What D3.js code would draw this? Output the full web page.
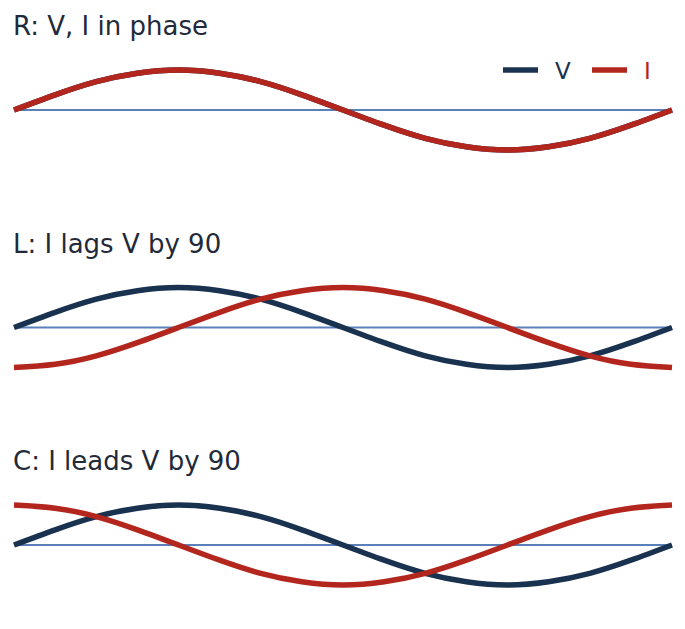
<!DOCTYPE html>
<html>
<head>
<meta charset="utf-8">
<script src="https://cdn.jsdelivr.net/npm/d3@7"></script>
<style>
  body { margin: 0; background: #fff; }
  text { font-family: "DejaVu Sans", sans-serif; }
</style>
</head>
<body>
<svg id="chart"></svg>
<script>
const svgWidth = 685,
    svgHeight = 629;

// phase angle (degrees) of each sample
const phase = [0, 22.5, 45, 67.5, 90, 112.5, 135, 157.5, 180, 202.5, 225, 247.5, 270, 292.5, 315, 337.5, 360];

// values, normalised to the peak
const voltage   = [0, 0.38, 0.71, 0.92, 1, 0.92, 0.71, 0.38, 0, -0.38, -0.71, -0.92, -1, -0.92, -0.71, -0.38, 0];
const currentR  = [0, 0.38, 0.71, 0.92, 1, 0.92, 0.71, 0.38, 0, -0.38, -0.71, -0.92, -1, -0.92, -0.71, -0.38, 0];
const currentL  = [-1, -0.92, -0.71, -0.38, 0, 0.38, 0.71, 0.92, 1, 0.92, 0.71, 0.38, 0, -0.38, -0.71, -0.92, -1];
const currentC  = [1, 0.92, 0.71, 0.38, 0, -0.38, -0.71, -0.92, -1, -0.92, -0.71, -0.38, 0, 0.38, 0.71, 0.92, 1];

const titles = ["R: V, I in phase", "L: I lags V by 90", "C: I leads V by 90"];
const currents = [currentR, currentL, currentC];
const legendLabels = ["V", "I"];

const vColor = "#19324f",
    iColor = "#b3261e",
    axisColor = "#5b80b9",
    titleColor = "#222a3a";

const chart = d3.select("#chart")
    .attr("width", svgWidth)
    .attr("height", svgHeight);

var xScale = d3.scaleLinear().domain([0, 360]).range([14, 672]);

titles.forEach(function(title, i) {
    var top = i * 217.5;
    var yScale = d3.scaleLinear().domain([-1, 1]).range([top + 150, top + 70]);

    var g = chart.append("g");

    g.append("text")
        .attr("x", 13)
        .attr("y", top + 35)
        .style("font-size", "26px")
        .style("fill", titleColor)
        .text(title);

    g.append("line")
        .attr("x1", xScale(0)).attr("x2", xScale(360))
        .attr("y1", yScale(0)).attr("y2", yScale(0))
        .style("stroke", axisColor)
        .style("stroke-width", 2);

    var line = d3.line()
        .x(function(d, j) { return xScale(phase[j]); })
        .y(function(d) { return yScale(d); })
        .curve(d3.curveNatural);

    g.append("path")
        .datum(voltage)
        .attr("d", line)
        .style("fill", "none")
        .style("stroke", vColor)
        .style("stroke-width", 5.5);

    g.append("path")
        .datum(currents[i])
        .attr("d", line)
        .style("fill", "none")
        .style("stroke", iColor)
        .style("stroke-width", 5.5);
});

// legend in the first panel
var legend = chart.append("g").attr("transform", "translate(503,70)");
[vColor, iColor].forEach(function(c, i) {
    var lg = legend.append("g").attr("transform", "translate(" + (i * 89) + ",0)");
    lg.append("line")
        .attr("x1", 0).attr("x2", 35)
        .style("stroke", c)
        .style("stroke-width", 5.5);
    lg.append("text")
        .attr("x", 52)
        .attr("y", 9)
        .style("font-size", "23px")
        .style("fill", c)
        .text(legendLabels[i]);
});
</script>
</body>
</html>
